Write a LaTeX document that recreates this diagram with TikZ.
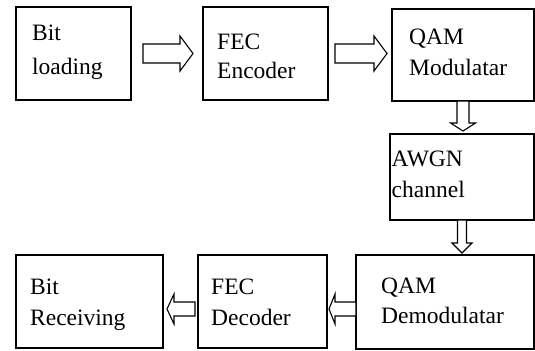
\documentclass[tikz,border=0pt]{standalone}
\usepackage{fontspec}
\setmainfont{Liberation Serif}
\usetikzlibrary{calc}
\tikzset{
  box/.style={draw, line width=1.2bp, inner sep=0pt, outer sep=0pt},
  lbl/.style={anchor=base west, inner sep=0pt, font=\fontsize{23.5bp}{28bp}\selectfont},
  blk/.style={draw, line width=1.1bp, fill=white}
}
% horizontal block arrow: tail coord (y used), tip coord (x used), body half, head half, signed head length
\newcommand\hblock[5]{\draw[blk] let \p1=(#1),\p2=(#2) in
  (\x1,\y1-#3) -- (\x2-#5,\y1-#3) -- (\x2-#5,\y1-#4) -- (\x2,\y1) -- (\x2-#5,\y1+#4) -- (\x2-#5,\y1+#3) -- (\x1,\y1+#3) -- cycle;}
% downward block arrow: tail coord (x used), tip coord (y used), body half, head half, head length
\newcommand\vblock[5]{\draw[blk] let \p1=(#1),\p2=(#2) in
  (\x1-#3,\y1) -- (\x1-#3,\y2+#5) -- (\x1-#4,\y2+#5) -- (\x1,\y2) -- (\x1+#4,\y2+#5) -- (\x1+#3,\y2+#5) -- (\x1+#3,\y1) -- cycle;}
\begin{document}
\begin{tikzpicture}[x=1bp,y=-1bp]
\useasboundingbox (0,0) rectangle (535,350);
% boxes
\node[box, minimum width=115bp, minimum height=93bp] (b1) at (73.5,53.5) {};
\node[box, minimum width=125bp, minimum height=93bp] (b2) at (265.5,53.5) {};
\node[box, minimum width=142bp, minimum height=92bp] (b3) at (463,55) {};
\node[box, minimum width=144bp, minimum height=86bp] (b4) at (462,177) {};
\node[box, minimum width=178bp, minimum height=94bp] (b5) at (445,302) {};
\node[box, minimum width=129bp, minimum height=93bp] (b6) at (262.5,301.5) {};
\node[box, minimum width=147bp, minimum height=93bp] (b7) at (89.5,301.5) {};
% labels
\node[lbl] (t1a) at (32,40.5) {Bit};
\node[lbl] (t1b) at (32,74) {loading};
\node[lbl] (t2a) at (217,49.5) {FEC};
\node[lbl] (t2b) at (217,78.5) {Encoder};
\node[lbl] (t3a) at (409,44) {QAM};
\node[lbl] (t3b) at (409,75.5) {Modulatar};
\node[lbl] (t4a) at (391.5,166) {AWGN};
\node[lbl] (t4b) at (391.5,197) {channel};
\node[lbl] (t5a) at (381,293) {QAM};
\node[lbl] (t5b) at (381,323.5) {Demodulatar};
\node[lbl] (t6a) at (211,294) {FEC};
\node[lbl] (t6b) at (211,325) {Decoder};
\node[lbl] (t7a) at (30,294.5) {Bit};
\node[lbl] (t7b) at (30,325) {Receiving};
% block arrows
\coordinate (a1s) at ($(b1.east)+(12,0)$);
\coordinate (a1e) at ($(b2.west)+(-10,0)$);
\hblock{a1s}{a1e}{9.5bp}{17.5bp}{13bp}
\coordinate (a2s) at ($(b2.east)+(7,0)$);
\coordinate (a2e) at ($(b3.west)+(-5,0)$);
\hblock{a2s}{a2e}{9.5bp}{17.5bp}{13bp}
\coordinate (a3e) at ($(b4.north)+(0,-3)$);
\vblock{b3.south}{a3e}{6bp}{12.5bp}{8bp}
\coordinate (a4e) at ($(b5.north)+(0,-2)$);
\vblock{b4.south}{a4e}{4.5bp}{10bp}{10bp}
\coordinate (a5s) at ($(b5.west)+(0,7)$);
\coordinate (a5e) at ($(b6.east)+(2,0)$);
\hblock{a5s}{a5e}{7bp}{15bp}{-6bp}
\coordinate (a6s) at ($(b6.west)+(-3,7.5)$);
\coordinate (a6e) at ($(b7.east)+(4,0)$);
\hblock{a6s}{a6e}{7bp}{15bp}{-7bp}
\end{tikzpicture}
\end{document}
